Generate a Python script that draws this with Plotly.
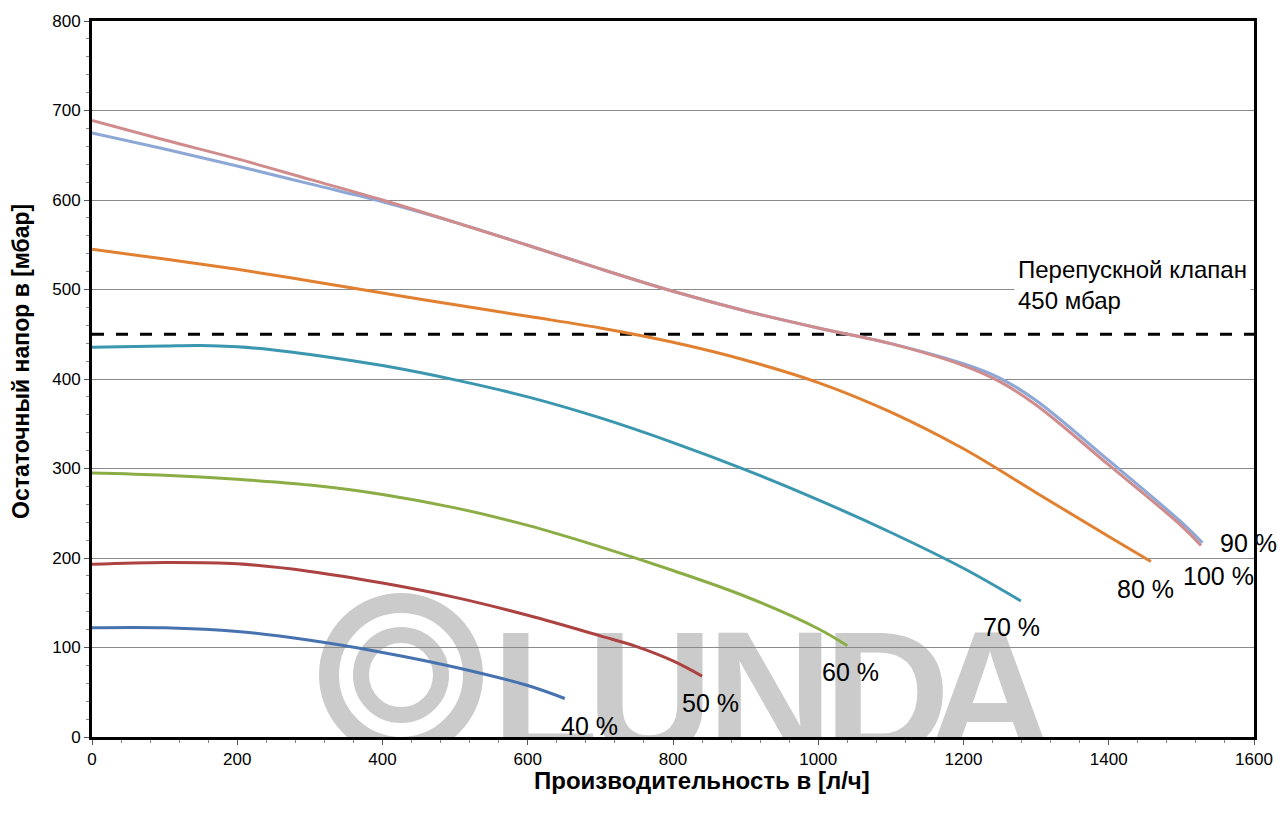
import plotly.graph_objects as go

# ---------------- data ----------------
x_40 = [0, 100, 200, 300, 400, 500, 600, 651]
y_40 = [122, 122, 118, 108, 94.5, 78, 57.5, 43]

x_50 = [0, 100, 200, 300, 400, 500, 600, 700, 750, 800, 840]
y_50 = [193, 195, 193.5, 185, 172, 156, 136, 113, 101, 85, 68]

x_60 = [0, 100, 200, 300, 400, 500, 600, 700, 800, 900, 1000, 1040]
y_60 = [295, 292.5, 288, 281.5, 271, 256, 236.5, 212.5, 186, 157, 121, 102]

x_70 = [0, 100, 150, 200, 250, 300, 400, 500, 600, 700, 800, 900, 1000, 1100, 1200, 1279]
y_70 = [435.5, 437, 437.5, 436, 432.5, 427.5, 415, 399, 380, 356.5, 329, 298.5, 265, 228.5, 188.5, 152]

x_80 = [0, 100, 200, 300, 400, 500, 600, 700, 800, 900, 1000, 1100, 1200, 1300, 1400, 1458]
y_80 = [545, 534, 522.5, 509.5, 496, 483, 470, 457, 441, 421, 396, 363, 322, 273, 224, 196]

x_90 = [0, 100, 200, 300, 400, 500, 600, 700, 800, 900, 1000, 1100, 1200, 1250, 1300, 1400, 1500, 1529]
y_90 = [675, 657, 638, 618, 598, 575, 549.5, 523, 498, 476, 457, 439.5, 417, 401, 376, 309, 240, 217]

x_100 = [0, 100, 200, 300, 400, 500, 600, 700, 800, 900, 1000, 1100, 1200, 1250, 1300, 1400, 1500, 1527]
y_100 = [689, 667, 646, 623, 600, 575, 549.5, 523, 498, 476, 457, 439.5, 415, 397, 371, 304, 236, 214]

bypass_x = [0, 1600]
bypass_y = [450, 450]
bypass_label = "Перепускной клапан<br>450 мбар"

x_ticks = [0, 200, 400, 600, 800, 1000, 1200, 1400, 1600]
y_ticks = [0, 100, 200, 300, 400, 500, 600, 700, 800]

x_title = "Производительность в [л/ч]"
y_title = "Остаточный напор в [мбар]"

# series: (label, x, y, colour, label pixel offset)
series = [
    ("40 %", x_40, y_40, "#4672B0", (25, -27)),
    ("50 %", x_50, y_50, "#AC4241", (8, -27)),
    ("60 %", x_60, y_60, "#8BAD45", (3, -26)),
    ("70 %", x_70, y_70, "#3B96AF", (-9, -26)),
    ("80 %", x_80, y_80, "#E08030", (-5, -27)),
    ("90 %", x_90, y_90, "#8DA7D6", (46, 0)),
    ("100 %", x_100, y_100, "#D08C8C", (18, -31)),
]

FONT = "Arial, 'Liberation Sans', sans-serif"
W, H = 1278, 818
ML, MR, MT, MB = 92, 24, 21, 81
PW, PH = W - ML - MR, H - MT - MB


def px_x(px):
    return (px - ML) / PW * 1600


def px_y(py):
    return (MT + PH - py) / PH * 800


def paper_x(px):
    return (px - ML) / PW


def paper_y(py):
    return (MT + PH - py) / PH


fig = go.Figure()

fig.add_trace(go.Scatter(
    x=bypass_x, y=bypass_y, mode="lines",
    line=dict(color="black", width=3, dash="12px,12px"),
    hoverinfo="skip", showlegend=False))

for name, xs, ys, col, _ in series:
    fig.add_trace(go.Scatter(
        x=xs, y=ys, mode="lines", name=name,
        line=dict(color=col, width=3, shape="spline", smoothing=1.0),
        showlegend=False))

annotations = []
for name, xs, ys, col, (dx, dy) in series:
    annotations.append(dict(
        x=xs[-1], y=ys[-1], text=name, showarrow=False,
        xshift=dx, yshift=dy, xanchor="center", yanchor="middle",
        font=dict(family=FONT, size=25, color="black")))

annotations.append(dict(
    x=px_x(1014), y=px_y(285), xref="x", yref="y", text=bypass_label,
    showarrow=False, xanchor="left", yanchor="middle", align="left",
    bgcolor="white", borderpad=3,
    font=dict(family=FONT, size=24, color="black")))

# axis titles (placed as in the reference)
annotations.append(dict(
    x=paper_x(702), y=paper_y(780), xref="paper", yref="paper", text=x_title,
    showarrow=False, xanchor="center", yanchor="middle",
    font=dict(family=FONT, size=24, color="black", weight="bold")))
annotations.append(dict(
    x=paper_x(21), y=paper_y(362), xref="paper", yref="paper", text=y_title,
    showarrow=False, xanchor="center", yanchor="middle", textangle=-90,
    font=dict(family=FONT, size=23, color="black", weight="bold")))

# watermark (decorative)
WM = "#CBCBCB"
shapes = []
cx, cy = 401, 675
for r, w in [(72, 20), (40, 16)]:
    shapes.append(dict(type="circle", layer="below",
                       x0=px_x(cx - r), x1=px_x(cx + r), y0=px_y(cy + r), y1=px_y(cy - r),
                       line=dict(color=WM, width=w)))
for ch, lx in [("L", 545), ("U", 650), ("N", 770), ("D", 887), ("A", 990)]:
    shapes.append(dict(type="rect", layer="below",
                       x0=px_x(lx - 60), x1=px_x(lx + 60), y0=px_y(745), y1=px_y(605),
                       line=dict(width=0),
                       label=dict(text=ch, textposition="middle center",
                                  font=dict(family=FONT, size=175, color=WM, weight="bold"))))

fig.update_layout(
    width=W, height=H,
    margin=dict(l=ML, r=MR, t=MT, b=MB, autoexpand=False),
    paper_bgcolor="white", plot_bgcolor="white",
    font=dict(family=FONT, color="black"),
    annotations=annotations, shapes=shapes,
)

fig.update_xaxes(
    range=[0, 1600], tickvals=x_ticks, showgrid=False, zeroline=False,
    showline=True, linewidth=3, linecolor="black", mirror=True,
    ticks="outside", ticklen=5, tickwidth=1, tickcolor="#555",
    minor=dict(dtick=40, ticks="outside", ticklen=3, tickcolor="#888", showgrid=False),
    tickfont=dict(family=FONT, size=17, color="black"),
    automargin=False,
)
fig.update_yaxes(
    range=[0, 800], tickvals=y_ticks, showgrid=True, gridcolor="#8A8A8A", gridwidth=1,
    zeroline=False, showline=True, linewidth=3, linecolor="black", mirror=True,
    ticks="outside", ticklen=5, tickwidth=1, tickcolor="#555",
    minor=dict(dtick=20, ticks="outside", ticklen=3, tickcolor="#888", showgrid=False),
    tickfont=dict(family=FONT, size=17, color="black"),
    automargin=False,
)

fig.write_html("out.html", config={"displayModeBar": False},
               post_script="document.body.style.margin='0';")
